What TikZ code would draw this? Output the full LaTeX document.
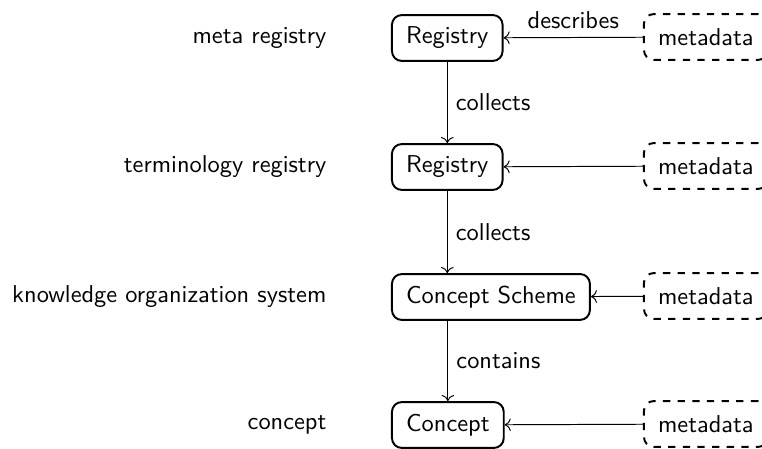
\documentclass[tikz,border=0pt]{standalone}
\usepackage{tikz}
\usetikzlibrary{calc,arrows.meta}
\tikzset{
  box/.style={draw, thick, rounded corners=4pt, anchor=west, inner xsep=5.8pt, inner ysep=3pt, minimum height=18.8pt},
  mdbox/.style={box, dashed},
  lvl/.style={anchor=east},
  rel/.style={draw, ->}
}

\begin{document}
\begin{tikzpicture}[x=0.41pt, y=-0.41pt, font=\sffamily]
  \useasboundingbox (0,0) rectangle (762,449);

  \node[lvl] (lmeta) at (335,38) {meta registry};
  \node[lvl] (lterm) at (335,167) {terminology registry};
  \node[lvl] (lkos) at (335,297) {knowledge organization system};
  \node[lvl] (lconcept) at (335,425) {concept};

  \node[box] (metareg) at (391,38) {Registry};
  \node[box] (termreg) at (391,167) {Registry};
  \node[box] (scheme) at (391,297) {Concept Scheme};
  \node[box] (concept) at (391,425) {Concept};

  \node[mdbox] (md1) at (643,37) {metadata};
  \node[mdbox] (md2) at (643,166) {metadata};
  \node[mdbox] (md3) at (643,296) {metadata};
  \node[mdbox] (md4) at (643,424) {metadata};

  \draw[rel] (md1) -- node[above] {describes} (metareg);
  \draw[rel] (md2) -- (termreg);
  \draw[rel] (md3) -- (scheme);
  \draw[rel] (md4) -- (concept);

  \draw[rel] (metareg) -- node[right] {collects} (termreg);
  \draw[rel] (termreg.south) -- node[right] {collects} (termreg.south |- scheme.north);
  \draw[rel] (concept.north |- scheme.south) -- node[right] {contains} (concept.north);
\end{tikzpicture}
\end{document}
